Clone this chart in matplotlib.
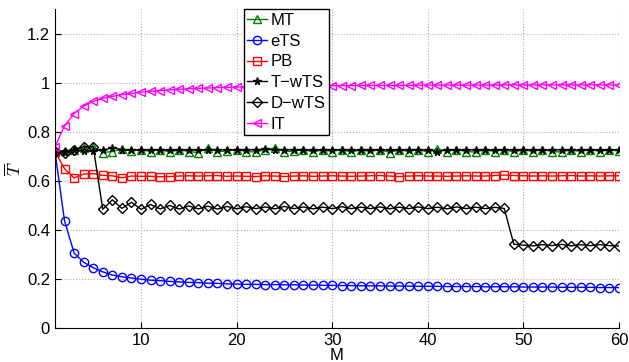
import matplotlib
matplotlib.use('Agg')
import matplotlib.pyplot as plt
from matplotlib.ticker import FormatStrFormatter

plt.rcParams['font.family'] = ['Liberation Sans', 'DejaVu Sans']
plt.rcParams['mathtext.fontset'] = 'cm'

M = list(range(1, 61))

mt = [0.725, 0.722, 0.728, 0.735, 0.738, 0.716, 0.72, 0.73, 0.722, 0.727,
      0.72, 0.728, 0.718, 0.727, 0.72, 0.716, 0.735, 0.72, 0.722, 0.728,
      0.72, 0.718, 0.728, 0.735, 0.72, 0.722, 0.728, 0.718, 0.727, 0.72,
      0.728, 0.718, 0.727, 0.72, 0.728, 0.716, 0.727, 0.72, 0.728, 0.718,
      0.732, 0.72, 0.728, 0.72, 0.718, 0.727, 0.72, 0.728, 0.718, 0.727,
      0.72, 0.728, 0.72, 0.718, 0.727, 0.72, 0.728, 0.72, 0.727, 0.722]

ets = [0.72, 0.437, 0.306, 0.268, 0.246, 0.229, 0.216, 0.209, 0.204, 0.199,
       0.195, 0.193, 0.19, 0.188, 0.186, 0.185, 0.183, 0.182, 0.18, 0.179,
       0.178, 0.178, 0.177, 0.177, 0.176, 0.176, 0.175, 0.175, 0.174, 0.174,
       0.173, 0.173, 0.172, 0.172, 0.172, 0.171, 0.171, 0.171, 0.17, 0.17,
       0.17, 0.169, 0.169, 0.169, 0.169, 0.168, 0.168, 0.168, 0.168, 0.167,
       0.167, 0.167, 0.167, 0.166, 0.166, 0.166, 0.166, 0.165, 0.165, 0.165]

pb = [0.72, 0.65, 0.612, 0.628, 0.63, 0.623, 0.621, 0.613, 0.62, 0.619,
      0.619, 0.617, 0.618, 0.62, 0.621, 0.62, 0.621, 0.622, 0.619, 0.62,
      0.619, 0.618, 0.621, 0.62, 0.618, 0.62, 0.621, 0.619, 0.62, 0.621,
      0.62, 0.619, 0.62, 0.621, 0.622, 0.62, 0.618, 0.62, 0.621, 0.62,
      0.62, 0.619, 0.62, 0.621, 0.62, 0.62, 0.622, 0.624, 0.622, 0.621,
      0.62, 0.621, 0.62, 0.621, 0.622, 0.62, 0.621, 0.62, 0.621, 0.621]

twts = [0.72, 0.72, 0.725, 0.722, 0.724, 0.726, 0.735, 0.728, 0.727, 0.726,
        0.728, 0.727, 0.726, 0.728, 0.727, 0.726, 0.727, 0.728, 0.726, 0.727,
        0.728, 0.727, 0.729, 0.726, 0.728, 0.727, 0.726, 0.728, 0.727, 0.726,
        0.728, 0.727, 0.726, 0.728, 0.727, 0.726, 0.727, 0.728, 0.726, 0.727,
        0.719, 0.728, 0.727, 0.726, 0.728, 0.727, 0.726, 0.728, 0.727, 0.726,
        0.728, 0.727, 0.726, 0.728, 0.727, 0.726, 0.728, 0.727, 0.726, 0.728]

dwts = [0.72, 0.713, 0.728, 0.74, 0.74, 0.484, 0.523, 0.488, 0.513, 0.484,
        0.504, 0.486, 0.5, 0.485, 0.498, 0.486, 0.497, 0.485, 0.496, 0.486,
        0.495, 0.487, 0.494, 0.486, 0.496, 0.487, 0.494, 0.486, 0.493, 0.487,
        0.495, 0.487, 0.493, 0.487, 0.494, 0.486, 0.493, 0.487, 0.494, 0.487,
        0.493, 0.486, 0.494, 0.487, 0.493, 0.487, 0.492, 0.488, 0.342, 0.338,
        0.335, 0.34, 0.336, 0.341, 0.335, 0.34, 0.336, 0.34, 0.336, 0.335]

it = [0.74, 0.825, 0.875, 0.905, 0.925, 0.937, 0.945, 0.952, 0.957, 0.962,
      0.966, 0.969, 0.972, 0.974, 0.976, 0.978, 0.979, 0.981, 0.982, 0.983,
      0.984, 0.985, 0.985, 0.986, 0.986, 0.987, 0.987, 0.988, 0.988, 0.989,
      0.989, 0.989, 0.99, 0.99, 0.99, 0.99, 0.99, 0.99, 0.991, 0.991,
      0.991, 0.991, 0.991, 0.991, 0.991, 0.991, 0.991, 0.992, 0.992, 0.992,
      0.992, 0.992, 0.992, 0.992, 0.992, 0.992, 0.992, 0.992, 0.992, 0.992]

fig = plt.figure(figsize=(6.29, 3.62), dpi=100)
ax = fig.add_axes([0.0874, 0.094, 0.8966, 0.88])

ms = 6
ax.plot(M, mt, color='#008000', marker='^', mfc='none', ms=ms, lw=1, label='MT')
ax.plot(M, ets, color='#0000ff', marker='o', mfc='none', ms=ms, lw=1, label='eTS')
ax.plot(M, pb, color='#ff0000', marker='s', mfc='none', ms=ms - 0.5, lw=1, label='PB')
ax.plot(M, twts, color='black', marker='*', ms=ms - 0.5, lw=1, label='T\u2212wTS')
ax.plot(M, dwts, color='black', marker='D', mfc='none', ms=ms - 1, lw=1, label='D\u2212wTS')
ax.plot(M, it, color='#ff00ff', marker='<', mfc='none', ms=ms, lw=1, label='IT')

ax.set_xlim(1, 60)
ax.set_ylim(0, 1.3)
ax.set_xticks([10, 20, 30, 40, 50, 60])
ax.set_yticks([0, 0.2, 0.4, 0.6, 0.8, 1.0, 1.2])
ax.yaxis.set_major_formatter(FormatStrFormatter('%g'))
ax.tick_params(direction='in', length=4, labelsize=12)
ax.spines['top'].set_visible(False)
ax.spines['right'].set_visible(False)
ax.grid(True, linestyle=':', color='#b0b0b0', linewidth=0.8)

ax.set_xlabel('M', fontsize=12, labelpad=0)
ax.set_ylabel(r'$\overline{T}$', fontsize=13, labelpad=2)

leg = ax.legend(loc='upper left', bbox_to_anchor=(0.335, 1.0), fontsize=12,
                fancybox=False, framealpha=1, edgecolor='black',
                handlelength=1.2, handletextpad=0.2, labelspacing=0.35,
                borderpad=0.2, borderaxespad=0)
leg.get_frame().set_linewidth(1)

fig.savefig('out.png', dpi=100)
